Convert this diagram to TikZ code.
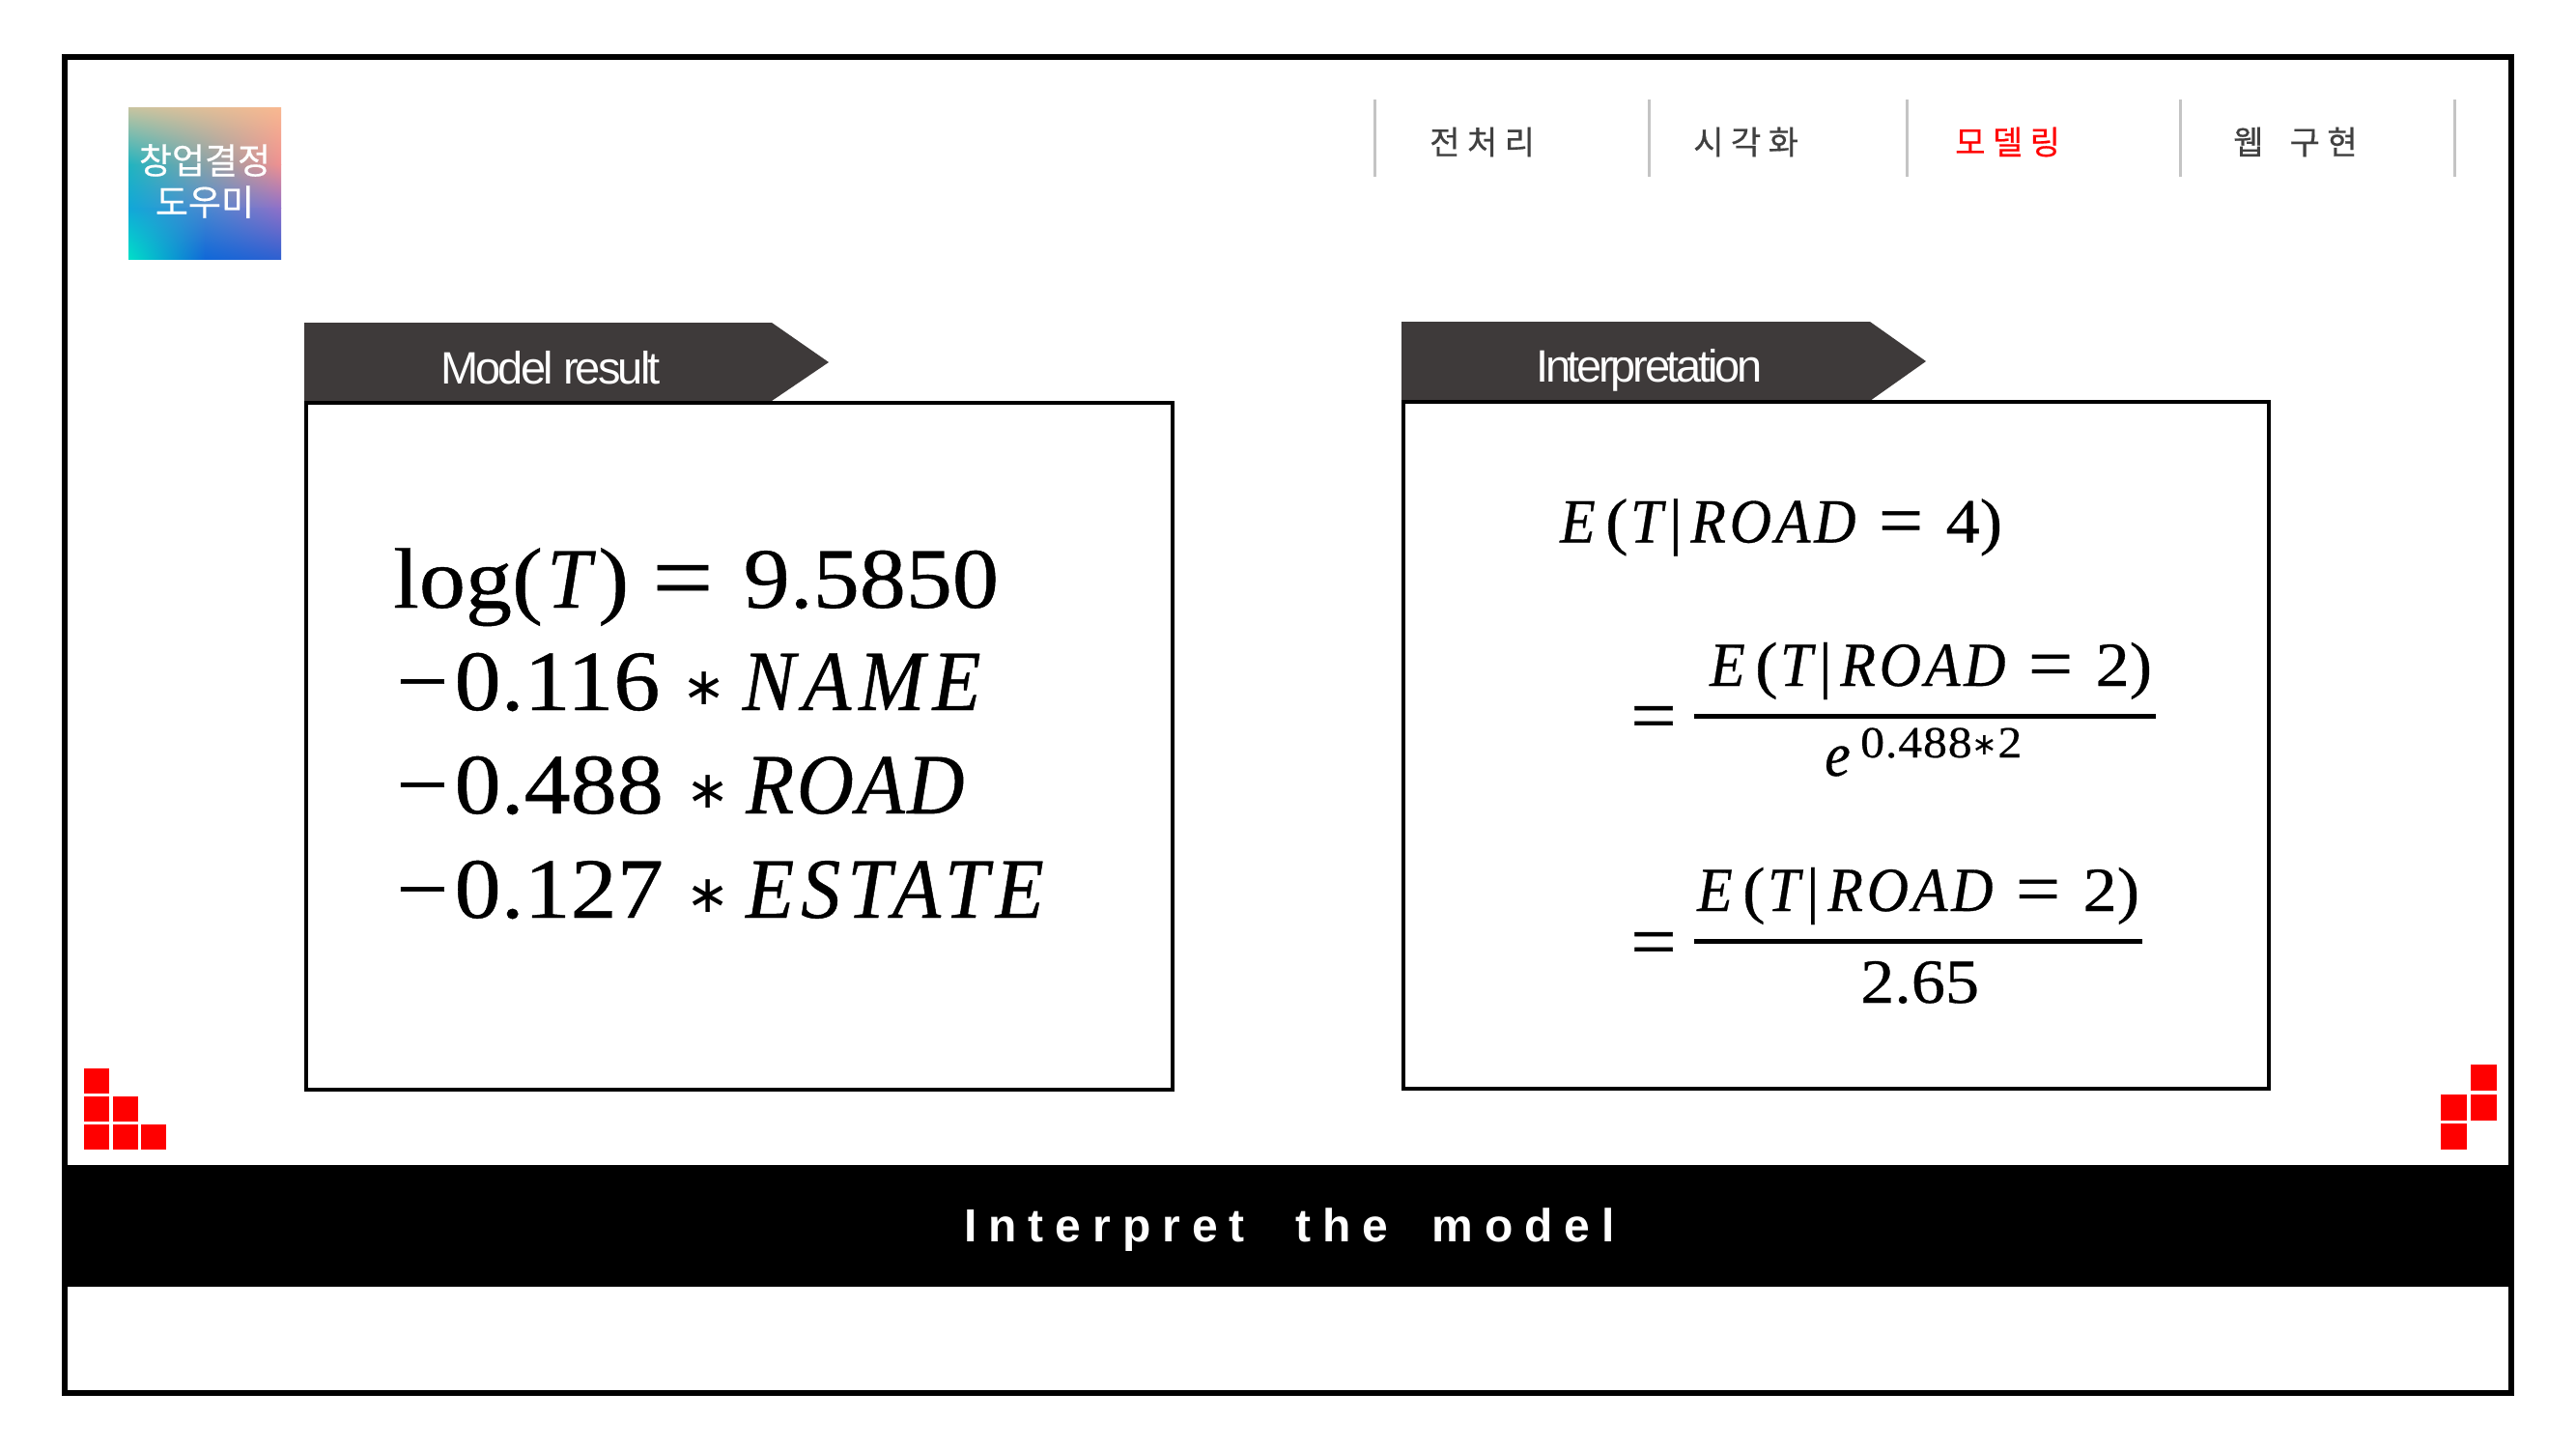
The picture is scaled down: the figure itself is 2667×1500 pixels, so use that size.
\documentclass[tikz,border=0pt]{standalone}
\usepackage{fontspec}
\usepackage{tikz}
\usepackage{xcolor}
\usetikzlibrary{positioning,shadings}
\setmainfont{Liberation Sans}
\newfontfamily\krfont[FakeBold=0.5]{Noto Sans CJK KR}
\newfontfamily\eqfont[FakeStretch=1.08,FakeBold=0.5,ItalicFeatures={FakeStretch=0.92,FakeBold=0.5}]{Liberation Serif}
\newfontfamily\opfont{DejaVu Sans}
\definecolor{tabdark}{HTML}{3E3A3A}
\definecolor{navgrey}{HTML}{C4C4C4}
\definecolor{navtext}{HTML}{404040}
\definecolor{toyred}{HTML}{FF0000}
\definecolor{logoa}{HTML}{C8C4A0}
\definecolor{logob}{HTML}{F8B890}
\definecolor{logoc}{HTML}{20B4C0}
\definecolor{logod}{HTML}{F09090}
\definecolor{logoe}{HTML}{10A8D8}
\definecolor{logof}{HTML}{9070C8}
\definecolor{logog}{HTML}{00E0C8}
\definecolor{logoh}{HTML}{2F60D0}
\definecolor{logoi}{HTML}{4888D0}
\definecolor{logoj}{HTML}{1068D8}
\newcommand{\fs}[1]{\fontsize{#1}{#1}\selectfont}
\newcommand{\mv}[2][3]{{\itshape\addfontfeature{LetterSpace=#1}#2}}
\newcommand{\opstar}[1]{\raisebox{.06em}{\opfont\fs{#1}∗}}
\newcommand{\eqsign}[1]{\raisebox{-.04em}{\fs{#1}=}}
\newcommand{\roadeq}[1]{\mv{E}\hspace{.16em}(\hspace{.04em}\mv{T}\hspace{.1em}|\hspace{.13em}\mv[6]{ROAD}\hspace{.36em}\eqsign{76}\hspace{.36em}#1)}
\tikzset{
    panelbox/.style={rectangle,draw=black,line width=4pt,fill=white,inner sep=0pt,outer sep=0pt},
    tabshape/.style={fill=tabdark,draw=none},
    tabtext/.style={anchor=base west,inner sep=0pt,text=white,font=\fs{47}},
    navtab/.style={anchor=west,inner sep=0pt,text=navtext,font=\krfont\addfontfeature{LetterSpace=22}\fs{34}},
    navline/.style={navgrey,line width=3pt},
    bigeq/.style={anchor=base west,inner sep=0pt,font=\eqfont\fs{89}},
    smalleq/.style={anchor=base west,inner sep=0pt,font=\eqfont\fs{65}},
    fracrule/.style={line width=5pt},
    toyblock/.style={fill=toyred,draw=none}
}
\begin{document}
\begin{tikzpicture}[x=1pt,y=-1pt]
    \path[use as bounding box,fill=white] (0,0) rectangle (2667,1500);
    % Frame and band
    \node[rectangle,draw=black,line width=6pt,inner sep=0pt,outer sep=0pt,minimum width=2533pt,minimum height=1383pt] (frame) at (1333.5,750.5) {};
    \node[rectangle,fill=black,inner sep=0pt,minimum width=2539pt,minimum height=126pt] (band) at (1333.5,1269) {};
    \node[anchor=base west,inner sep=0pt,text=white,font=\bfseries\addfontfeature{LetterSpace=25}\fs{48}] (bandtext) at (998,1285) {Interpret\hspace{27pt} the\hspace{20pt} model};

    % Logo
    \shade[upper left=logoa,upper right=logob,lower left=logoc,lower right=logod] (133,111) rectangle (291,170.5);
    \shade[upper left=logoc,upper right=logod,lower left=logoe,lower right=logof] (133,170) rectangle (291,215.5);
    \shade[upper left=logoe,upper right=logoi,lower left=logog,lower right=logoj] (133,215) rectangle (212.5,268);
    \shade[upper left=logoi,upper right=logof,lower left=logoj,lower right=logoh] (212,215) rectangle (291,268);
    \node[text=white,inner sep=0pt,font=\krfont\fs{37}] (logoa) at (212,166) {창업결정};
    \node[text=white,inner sep=0pt,font=\krfont\fs{37}] (logob) at (212,209) {도우미};

    % Navigation
    \foreach \x in {1423,1707,1974,2257,2541}
        \draw[navline] (\x,103) -- (\x,183);
    \node[navtab] (prep) at (1480,147) {전처리};
    \node[navtab] (vis) at (1753,147) {시각화};
    \node[navtab,text=toyred] (model) at (2024,147) {모델링};
    \node[navtab] (web) at (2312,147) {웹\hspace{12pt} 구현};

    % Panels
    \fill[tabshape] (315,334) -- (799,334) -- (858,375) -- (799,415) -- (315,415) -- cycle;
    \fill[tabshape] (1451,333) -- (1936,333) -- (1994,374) -- (1936,415) -- (1451,415) -- cycle;
    \node[panelbox,minimum width=897pt,minimum height=711.5pt] (resultbox) at (765.5,772.25) {};
    \node[panelbox,minimum width=896.5pt,minimum height=711.5pt] (interpbox) at (1900.75,771.25) {};
    \node[tabtext,font=\addfontfeature{LetterSpace=-6}\fs{47}] (resulttab) at (456,397) {Model result};
    \node[tabtext,font=\addfontfeature{LetterSpace=-7}\fs{47}] (interptab) at (1590,395) {Interpretation};

    % Model result
    \node[bigeq] (logline) at (407,629) {log(\hspace{.05em}\mv{T}\hspace{.08em})\hspace{.27em}\eqsign{104}\hspace{.35em}9.5850};
    \node[bigeq] (nameline) at (410,735) {−\hspace{.07em}0.116\hspace{.26em}\opstar{54}\hspace{.19em}\mv[9]{NAME}};
    \node[bigeq] (roadline) at (410,842) {−\hspace{.07em}0.488\hspace{.26em}\opstar{54}\hspace{.19em}\mv[3]{ROAD}};
    \node[bigeq] (estateline) at (410,950) {−\hspace{.07em}0.127\hspace{.26em}\opstar{54}\hspace{.19em}\mv[8]{ESTATE}};

    % Interpretation
    \node[smalleq] (first) at (1615,561.5) {\roadeq{4}};
    \node[smalleq] (numtwo) at (1770,710) {\roadeq{2}};
    \node[smalleq,anchor=center,font=\eqfont\fs{78}] (eqtwo) at (1712,749) {=};
    \coordinate (ruletwoa) at (1754,741);
    \coordinate (ruletwob) at (2232,741);
    \draw[fracrule] (ruletwoa) -- (ruletwob);
    \node[smalleq] (dentwo) at (1889,803) {\mv{e}};
    \node[smalleq,font=\eqfont\addfontfeature{LetterSpace=2}\fs{46}] (exptwo) at (1926,784) {0.488\opstar{32}2};
    \node[smalleq] (numthree) at (1757,943) {\roadeq{2}};
    \node[smalleq,anchor=center,font=\eqfont\fs{78}] (eqthree) at (1712,983) {=};
    \coordinate (rulethreea) at (1754,974);
    \coordinate (rulethreeb) at (2218,974);
    \draw[fracrule] (rulethreea) -- (rulethreeb);
    \node[smalleq] (denthree) at (1926,1038) {2.65};

    % Red blocks
    \foreach \x/\y in {87/1106,87/1135,87/1164,117/1135,117/1164,146/1164}
        \fill[toyblock] (\x,\y) rectangle ++(26,26);
    \foreach \x/\y in {2558/1102,2558/1133,2527/1133,2527/1163}
        \fill[toyblock] (\x,\y) rectangle ++(26.5,26.5);
\end{tikzpicture}
\end{document}
